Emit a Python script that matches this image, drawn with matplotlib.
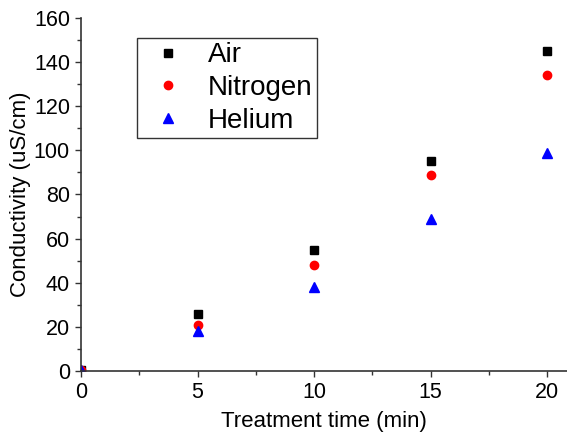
import matplotlib
matplotlib.use("Agg")
import matplotlib.pyplot as plt
from matplotlib.ticker import MultipleLocator

# treatment time (min) and conductivity (uS/cm) per gas
time = [0, 5, 10, 15, 20]
air = [0.5, 26, 55, 95, 145]
nitrogen = [0.5, 21, 48, 89, 134]
helium = [0.5, 18, 38, 69, 99]

plt.rcParams['font.family'] = ['Liberation Sans', 'DejaVu Sans']

fig = plt.figure(figsize=(5.67, 4.34), dpi=100)
ax = fig.add_axes([81 / 567, 1 - 371 / 434, 486 / 567, 353 / 434])

ax.plot(time, air, 's', color='black', markersize=5.5, label='Air')
ax.plot(time, nitrogen, 'o', color='red', markersize=6, label='Nitrogen')
ax.plot(time, helium, '^', color='blue', markersize=6.5, label='Helium')

ax.set_xlim(0, 20.85)
ax.set_ylim(0, 160)
ax.xaxis.set_major_locator(MultipleLocator(5))
ax.xaxis.set_minor_locator(MultipleLocator(2.5))
ax.yaxis.set_major_locator(MultipleLocator(20))
ax.yaxis.set_minor_locator(MultipleLocator(10))

for side in ['top', 'right']:
    ax.spines[side].set_visible(False)
for side in ['left', 'bottom']:
    ax.spines[side].set_linewidth(1.2)
    ax.spines[side].set_color('#333333')

ax.tick_params(which='major', direction='out', length=4, width=1, labelsize=15.5,
               colors='#333333', labelcolor='black', pad=4)
ax.tick_params(which='minor', direction='out', length=3, width=1, colors='#333333')

ax.set_xlabel('Treatment time (min)', fontsize=16, labelpad=6)
ax.set_ylabel('Conductivity (uS/cm)', fontsize=16, labelpad=2)

leg = ax.legend(loc='upper left', bbox_to_anchor=(0.115, 0.943), fontsize=20,
                fancybox=False, framealpha=1, edgecolor='#333333',
                handletextpad=0.45, borderpad=0.15, labelspacing=0.24, handlelength=1.95,
                borderaxespad=0)
leg.get_frame().set_linewidth(1.0)

fig.savefig('out.png', dpi=100)
